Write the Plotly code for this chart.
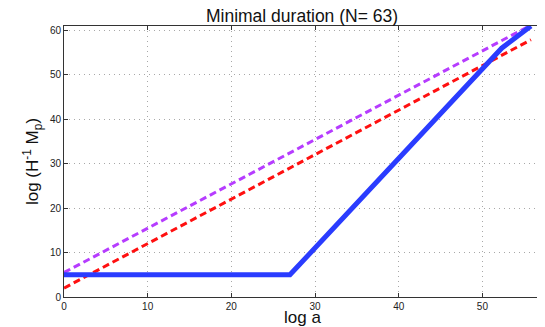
import plotly.graph_objects as go

# curve data
blue_x = [0, 27, 52.3, 55.8]
blue_y = [5, 5, 56, 61]
purple_x = [0, 55.4]
purple_y = [5.5, 60.8]
red_x = [0, 55.8]
red_y = [2, 57.9]

fig = go.Figure()
fig.add_trace(go.Scatter(x=purple_x, y=purple_y, mode="lines",
                         line=dict(color="#b63cff", width=3, dash="7px,4px")))
fig.add_trace(go.Scatter(x=red_x, y=red_y, mode="lines",
                         line=dict(color="#ff1010", width=3, dash="7px,4px")))
fig.add_trace(go.Scatter(x=blue_x, y=blue_y, mode="lines",
                         line=dict(color="#2a3cff", width=5)))

axis_common = dict(showgrid=True, gridcolor="#a8a8a8", griddash="1px,4px", gridwidth=1,
                   zeroline=False, showline=True, linecolor="#333", linewidth=1,
                   mirror="ticks", ticks="inside", ticklen=4, tickcolor="#333",
                   tickfont=dict(size=10, color="#222"), automargin=False)

fig.update_xaxes(range=[0, 57], dtick=10, title_text="log a",
                 title_font=dict(size=17, color="#111"), title_standoff=3, **axis_common)
fig.update_yaxes(range=[0, 61], dtick=10, title_text="log (H<sup>-1</sup> M<sub>p</sub>)",
                 title_font=dict(size=17, color="#111"), title_standoff=6, **axis_common)

# the page body has an 8px margin, so the figure is drawn 8px smaller
fig.update_layout(
    width=537, height=319,
    margin=dict(l=56, r=4, t=18, b=30, autoexpand=False),
    title=dict(text="Minimal duration (N= 63)", x=0.5475, xanchor="center",
               y=0.976, yanchor="middle",
               font=dict(size=17.5, color="#111")),
    font=dict(family="Liberation Sans, Arial, sans-serif"),
    showlegend=False,
    plot_bgcolor="white", paper_bgcolor="white",
)

fig.write_html("out.html")
